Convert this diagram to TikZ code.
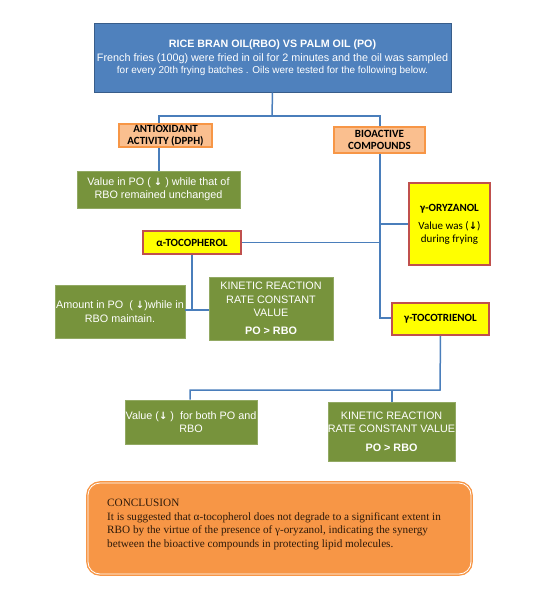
\documentclass[tikz,border=0pt]{standalone}
\usepackage{fontspec}
\setmainfont{Liberation Sans}
\newfontfamily\calib{Carlito}
\newfontfamily\timesf{Liberation Serif}
\newfontfamily\arrf{DejaVu Sans}
\usetikzlibrary{calc}
\definecolor{bluebox}{HTML}{4F81BD}
\definecolor{blueedge}{HTML}{385D8A}
\definecolor{conn}{HTML}{4A7EBB}
\definecolor{orlight}{HTML}{FABF8F}
\definecolor{oredge}{HTML}{F79646}
\definecolor{grn}{HTML}{77933C}
\definecolor{yel}{HTML}{FFFF00}
\definecolor{yedge}{HTML}{C0504D}
\definecolor{concl}{HTML}{F79646}
\definecolor{brn}{HTML}{2E1A0A}
\newcommand{\dn}{{\arrf\bfseries\fontsize{10}{10}\selectfont ↓}}
\tikzset{
  box/.style={rectangle, inner sep=1pt, align=center, anchor=center},
  topbox/.style={box, fill=bluebox, draw=blueedge, line width=1pt, text=white},
  orbox/.style={box, fill=orlight, draw=oredge, line width=1.2pt, text=black, inner sep=0pt, font=\calib\bfseries\fontsize{11}{12}\selectfont},
  grbox/.style={box, fill=grn, draw=grn!80!white, line width=0.6pt, text=white, inner sep=0pt, font=\fontsize{10.8}{13.3}\selectfont},
  yebox/.style={box, fill=yel, draw=yedge, line width=1.5pt, text=black, font=\calib\fontsize{11}{13}\selectfont},
  cbox/.style={rectangle, rounded corners=12pt, fill=concl, draw=concl, double=white, double distance=0.8pt, line width=1.4pt},
  link/.style={draw=conn, line width=1.5pt}
}
\begin{document}
\begin{tikzpicture}[x=1pt,y=-1pt]
\useasboundingbox (0,0) rectangle (550,600);
% nodes
\node[topbox, minimum width=357pt, minimum height=69pt] (top) at (272.5,57.5)
  {\fontsize{10.7}{14}\selectfont\bfseries RICE BRAN OIL(RBO) VS PALM OIL (PO)\\[2pt]
   \mdseries\fontsize{10.8}{13}\selectfont French fries (100g) were fried in oil for 2 minutes and the oil was sampled\\
   for every 20th frying batches . Oils were tested for the following below.};
\node[orbox, minimum width=93pt, minimum height=23pt] (anti) at (165.5,135.5) {ANTIOXIDANT\\ACTIVITY (DPPH)};
\node[orbox, minimum width=91pt, minimum height=26pt] (bio) at (379.5,140) {BIOACTIVE\\COMPOUNDS};
\node[grbox, minimum width=163pt, minimum height=37pt] (g1) at (158.5,189.5) {Value in PO ( \dn\ ) while that of\\RBO remained unchanged};
\node[yebox, minimum width=81pt, minimum height=82pt] (ory) at (449.5,224) {\textbf{γ-ORYZANOL}\\[5pt]Value was (\dn)\\during frying};
\node[yebox, font=\calib\bfseries\fontsize{11}{13}\selectfont, minimum width=98pt, minimum height=23pt] (atoc) at (192,242.5) {α-TOCOPHEROL};
\node[grbox, minimum width=130pt, minimum height=53pt] (g2) at (120,311.5) {Amount in PO\ \ ( \dn)while in\\RBO maintain.};
\node[grbox, minimum width=124pt, minimum height=63pt] (k1) at (271,308.5) {KINETIC REACTION\\RATE CONSTANT\\VALUE\\[5pt]\textbf{PO > RBO}};
\node[yebox, font=\calib\bfseries\fontsize{11}{13}\selectfont, minimum width=97pt, minimum height=32pt] (gtoc) at (440.5,319) {γ-TOCOTRIENOL};
\node[grbox, minimum width=132pt, minimum height=44pt] (g3) at (191,422) {Value (\dn\ )\ \ for both PO and\\RBO};
\node[grbox, minimum width=127pt, minimum height=59pt] (k2) at (391.5,431.5) {KINETIC REACTION\\RATE CONSTANT VALUE\\[5pt]\textbf{PO > RBO}};
\node[cbox, minimum width=383pt, minimum height=91pt] (cc) at (279.5,528.5) {};
\node[anchor=north west, inner sep=0pt, align=left, text=brn, font=\timesf\fontsize{11.2}{13.6}\selectfont] (ctext) at (107,499)
  {CONCLUSION\\It is suggested that α-tocopherol does not degrade to a significant extent in\\
   RBO by the virtue of the presence of γ-oryzanol, indicating the synergy\\
   between the bioactive compounds in protecting lipid molecules.};
% connector coordinates
\coordinate (j1) at (272,116);
\coordinate (xa) at (159,0);
\coordinate (xb) at (380,0);
\coordinate (jb) at (380,318);
\coordinate (ja) at (192,310);
\coordinate (jg) at (440,390);
\coordinate (x3) at (190,0);
\coordinate (x4) at (392,0);
% connectors
\draw[link] (top.south) -- (j1);
\draw[link] (xa |- anti.north) -- (xa |- j1) -- (xb |- j1) -- (xb |- bio.north);
\draw[link] (xa |- anti.south) -- (xa |- g1.north);
\draw[link] (xb |- bio.south) -- (jb) -- (gtoc.west |- jb);
\draw[link] (xb |- ory.west) -- (ory.west);
\draw[link] (atoc.east) -- (xb |- atoc.east);
\draw[link] (atoc.south) -- (ja);
\draw[link] (g2.east |- ja) -- (k1.west |- ja);
\draw[link] (gtoc.south) -- (jg) -- (x3 |- jg) -- (x3 |- g3.north);
\draw[link] (x4 |- jg) -- (x4 |- k2.north);
\end{tikzpicture}
\end{document}
